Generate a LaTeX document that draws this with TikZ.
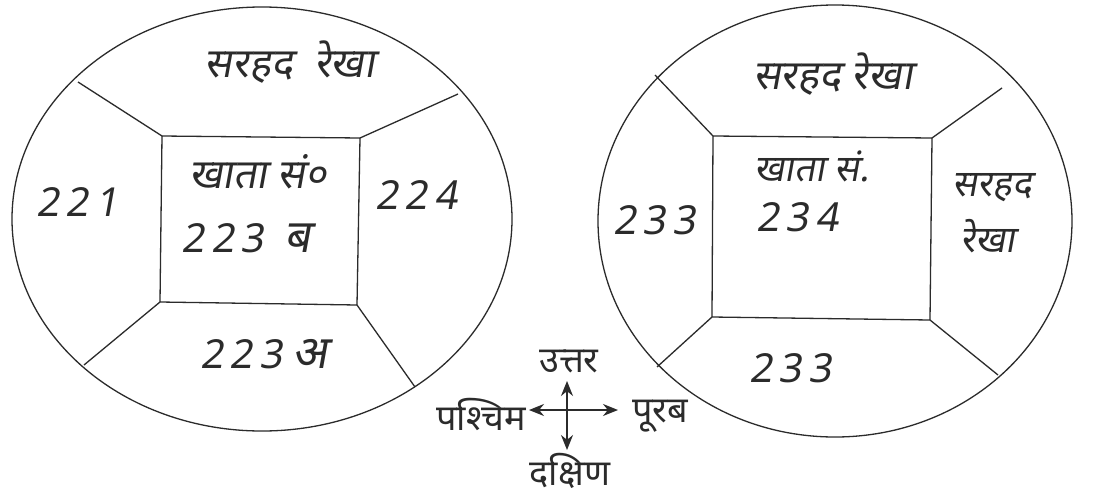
\documentclass[tikz,border=0pt]{standalone}
\usepackage{fontspec}
\usetikzlibrary{arrows.meta}
\newfontfamily\deva[Script=Devanagari]{Noto Sans}
\newfontfamily\hand[Script=Devanagari,FakeSlant=0.18]{Noto Sans}
\newcommand{\bigdv}[1]{{\fontsize{46}{48}\selectfont #1}}
\definecolor{ink}{HTML}{2B2B2B}
\tikzset{
  outline/.style={draw=ink, line width=1.3pt},
  hw/.style={font=\hand\fontsize{41}{43}\selectfont, text=ink, inner sep=0pt},
  hwsmall/.style={font=\hand\fontsize{37}{39}\selectfont, text=ink, inner sep=0pt},
  hwnum/.style={font=\hand\fontsize{40}{42}\selectfont, text=ink, inner sep=0pt},
  printed/.style={font=\deva\fontsize{36}{38}\selectfont, text=ink, inner sep=0pt},
  arr/.style={draw=ink, line width=1.8pt, -{Stealth[length=15pt,width=12pt]}}
}
\begin{document}
\begin{tikzpicture}[x=1pt,y=-1pt]
\useasboundingbox (0,0) rectangle (1111,498);
\fill[white] (0,0) rectangle (1111,498);

% ---------- left plot ----------
\draw[outline] (262,219) ellipse [x radius=250, y radius=212];
\coordinate (Ltl) at (162,136);
\coordinate (Ltr) at (360,138);
\coordinate (Lbr) at (357,305);
\coordinate (Lbl) at (160,302);
\draw[outline] (Ltl) -- (Ltr) -- (Lbr) -- (Lbl) -- cycle;
\coordinate (Lotl) at (78,82);
\coordinate (Lotr) at (458,94);
\coordinate (Lobl) at (84,365);
\coordinate (Lobr) at (415,387);
\draw[outline] (Ltl) -- (Lotl);
\draw[outline] (Ltr) -- (Lotr);
\draw[outline] (Lbl) -- (Lobl);
\draw[outline] (Lbr) -- (Lobr);

\node[hw] (Ltop) at (290,62) {सरहद \ रेखा};
\node[hwnum] (Lwest) at (77,202) {2\,2\,1};
\node[hwnum] (Least) at (416,195) {2\,2\,4};
\node[hw] (Lkh) at (258,172) {खाता सं०};
\node[hwnum] (Lno) at (246,238) {2\,2\,3 \ \bigdv{ब}};
\node[hwnum] (Lsouth) at (264,354) {2\,2\,3 \bigdv{अ}};

% ---------- right plot ----------
\draw[outline] (835,221) ellipse [x radius=237, y radius=216];
\coordinate (Rtl) at (713,136);
\coordinate (Rtr) at (932,138);
\coordinate (Rbr) at (930,320);
\coordinate (Rbl) at (712,317);
\draw[outline] (Rtl) -- (Rtr) -- (Rbr) -- (Rbl) -- cycle;
\coordinate (Rotl) at (655,75);
\coordinate (Rotr) at (1002,88);
\coordinate (Robl) at (657,367);
\coordinate (Robr) at (998,375);
\draw[outline] (Rtl) -- (Rotl);
\draw[outline] (Rtr) -- (Rotr);
\draw[outline] (Rbl) -- (Robl);
\draw[outline] (Rbr) -- (Robr);

\node[hw] (Rtop) at (833,74) {सरहद रेखा};
\node[hwsmall] (Rkh) at (812,166) {खाता सं.};
\node[hwnum] (Rno) at (797,217) {2\,3\,4};
\node[hwnum] (Rwest) at (654,220) {2\,3\,3};
\node[hwsmall] (Reast1) at (992,188) {सरहद};
\node[hwsmall] (Reast2) at (988,236) {रेखा};
\node[hwnum] (Rsouth) at (790,368) {2\,3\,3};

% ---------- compass ----------
\coordinate (cc) at (567,410);
\coordinate (ntip) at (567,381);
\coordinate (stip) at (567,450);
\coordinate (wtip) at (529,410);
\coordinate (etip) at (618,410);
\draw[arr] (cc) -- (ntip);
\draw[arr] (cc) -- (stip);
\draw[arr] (cc) -- (wtip);
\draw[arr] (cc) -- (etip);
\node[printed] (north) at (569,362) {उत्तर};
\node[printed] (south) at (570,471) {दक्षिण};
\node[printed, anchor=east] (west) at (526,414) {पश्चिम};
\node[printed, anchor=west] (east) at (632,416) {पूरब};
\end{tikzpicture}
\end{document}
